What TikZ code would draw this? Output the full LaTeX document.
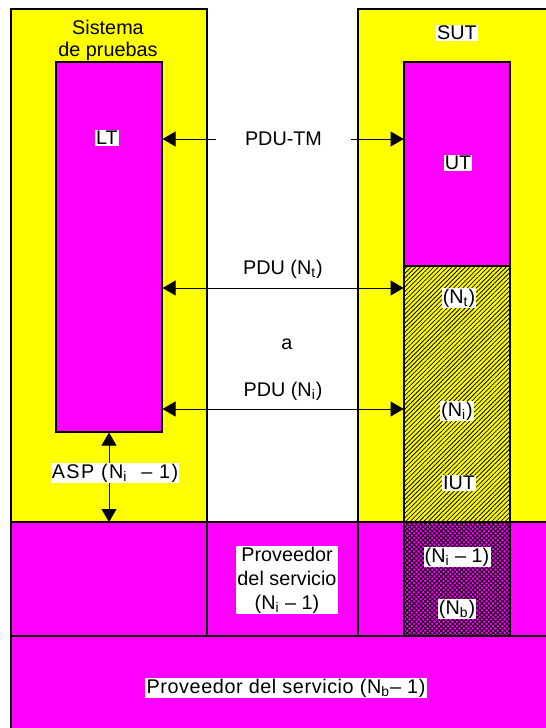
\documentclass[tikz,border=0pt]{standalone}
\usepackage{fontspec}
\setmainfont{Liberation Sans}
\usetikzlibrary{arrows.meta,patterns.meta,positioning}
\definecolor{sysyellow}{RGB}{255,255,0}
\definecolor{provmag}{RGB}{255,0,255}

\tikzset{
  layer/.style={draw=black, line width=0.6pt},
  blk/.style={layer, minimum width=53pt, inner sep=0pt},
  lbl/.style={fill=white, inner sep=0.6pt},
  tip/.style={-{Triangle[length=6.5pt,width=7.5pt]}},
  tips/.style={{Triangle[length=6.5pt,width=7.5pt]}-{Triangle[length=6.5pt,width=7.5pt]}},
}

\begin{document}
\begin{tikzpicture}[x=0.5pt, y=-0.5pt, font=\fontsize{9.9}{11}\selectfont]
  \useasboundingbox (0,0) rectangle (546,728);
  % test system and SUT
  \filldraw[layer, fill=sysyellow] (11,9) rectangle (207,522);
  \filldraw[layer, fill=sysyellow] (358,9) rectangle (570,522);
  % service providers
  \filldraw[layer, fill=provmag] (11,522) rectangle (570,636);
  \draw[layer] (207,522) -- (207,636);
  \draw[layer] (358,522) -- (358,636);
  \filldraw[layer, fill=provmag] (11,636) rectangle (570,750);

  % blocks
  \node[blk, fill=provmag, minimum height=185pt] (lt) at (109,247) {};
  \node[blk, fill=provmag, minimum height=102pt] (ut) at (457,164) {};
  \node[blk, preaction={fill=sysyellow}, pattern={Lines[angle=45,distance=1.6pt,line width=0.4pt]},
        minimum height=128pt] (iut) at (457,394) {};
  \node[blk, preaction={fill=provmag}, pattern={Hatch[angle=45,distance=1.6pt,line width=0.45pt]},
        minimum height=57pt] (nb) at (457,579) {};

  % labels
  \node[align=center] (sys) at (108,40) {Sistema\\de pruebas};
  \node[lbl] (sut) at (457,33) {SUT};
  \node[lbl] (ltl) at (107,138) {LT};
  \node[lbl] (utl) at (458,163) {UT};
  \node[lbl] (ntl) at (459,298) {(N\textsubscript{t})};
  \node[lbl] (nil) at (457,411) {(N\textsubscript{i})};
  \node[lbl] (iutl) at (459,483) {IUT};
  \node[lbl] (ni1) at (457,557) {(N\textsubscript{i} -- 1)};
  \node[lbl] (nbl) at (457,609) {(N\textsubscript{b})};

  % PDUs
  \node[inner xsep=14.5pt] (pdutm) at (283.5,139) {PDU-TM};
  \draw[tip] (pdutm.west) -- (lt.east |- pdutm.west);
  \draw[tip] (pdutm.east) -- (iut.west |- pdutm.east);
  \node (pdut) at (283,269) {PDU (N\textsubscript{t})};
  \draw[tips] (lt.east |- 0,288) -- (iut.west |- 0,288);
  \node (a) at (287,344) {a};
  \node (pdui) at (283,391) {PDU (N\textsubscript{i})};
  \draw[tips] (lt.east |- 0,409) -- (iut.west |- 0,409);

  % ASP
  \draw[tips] (lt.south) -- (lt.south |- 0,522);
  \node[lbl] (asp) at (115,473) {\addfontfeature{LetterSpace=7}ASP (N\textsubscript{i}~ -- 1)};

  \node[lbl, align=center, font=\fontsize{9.9}{12}\selectfont] (prov) at (287,580)
    {Proveedor\\del servicio\\(N\textsubscript{i} -- 1)};
  \node[lbl] (provb) at (286,688) {\addfontfeature{LetterSpace=3}Proveedor del servicio (N\textsubscript{b}-- 1)};
\end{tikzpicture}
\end{document}
